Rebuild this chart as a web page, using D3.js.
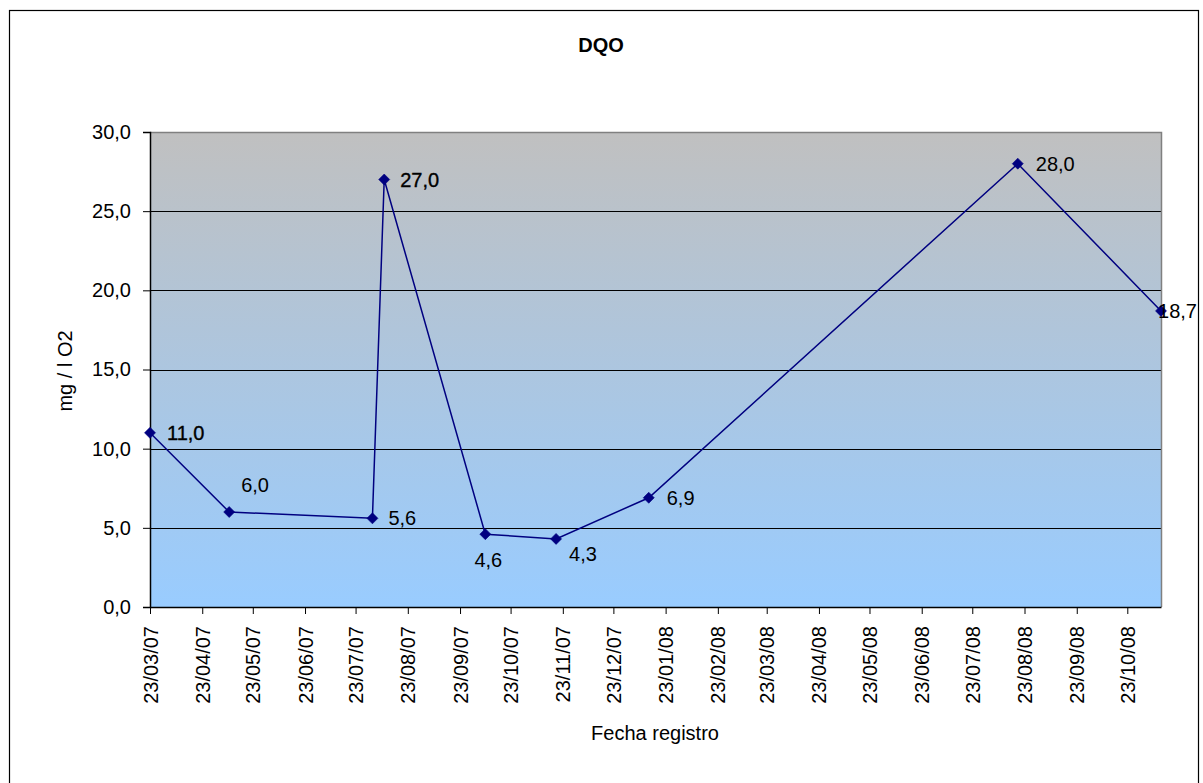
<!DOCTYPE html>
<html>
<head>
<meta charset="utf-8">
<script src="https://cdn.jsdelivr.net/npm/d3@7"></script>
<style>
  html, body { margin: 0; padding: 0; background: #ffffff; }
  svg { display: block; }
  text { font-family: "Liberation Sans", Arial, sans-serif; fill: #000; }
</style>
</head>
<body>
<svg id="chart" width="1203" height="783"></svg>
<script>
// DQO readings (mg / l O2) by sampling date
const sampleDates = ["23/03/07", "09/05/07", "02/08/07", "09/08/07", "08/10/07",
                     "19/11/07", "13/01/08", "19/08/08", "12/11/08"];
const dqoValues = [11.0, 6.0, 5.6, 27.0, 4.6, 4.3, 6.9, 28.0, 18.7];

// Monthly axis ticks
const xTickLabels = ["23/03/07", "23/04/07", "23/05/07", "23/06/07", "23/07/07",
                     "23/08/07", "23/09/07", "23/10/07", "23/11/07", "23/12/07",
                     "23/01/08", "23/02/08", "23/03/08", "23/04/08", "23/05/08",
                     "23/06/08", "23/07/08", "23/08/08", "23/09/08", "23/10/08"];
const yTickValues = [0, 5, 10, 15, 20, 25, 30];

const chartTitle = "DQO";
const xTitle = "Fecha registro";
const yTitle = "mg / l O2";

const parseDate = d3.timeParse("%d/%m/%y");
const points = sampleDates.map((d, i) => ({ date: parseDate(d), value: dqoValues[i] }));

const svg = d3.select("#chart");
const plot = { left: 150, top: 132, right: 1161, bottom: 607 };

const x = d3.scaleTime()
  .domain(d3.extent(points, d => d.date))
  .range([plot.left, plot.right]);
const y = d3.scaleLinear()
  .domain([0, 30])
  .range([plot.bottom, plot.top]);

const fmt = v => d3.format(".1f")(v).replace(".", ",");

// Outer chart frame
svg.append("rect")
  .attr("x", 9.5).attr("y", 10.5).attr("width", 1189).attr("height", 820)
  .attr("fill", "#fff").attr("stroke", "#000").attr("stroke-width", 1.2);

// Plot area background gradient
const defs = svg.append("defs");
const grad = defs.append("linearGradient")
  .attr("id", "plotBg").attr("x1", 0).attr("y1", 0).attr("x2", 0).attr("y2", 1);
grad.append("stop").attr("offset", "0%").attr("stop-color", "#c0c0c0");
grad.append("stop").attr("offset", "100%").attr("stop-color", "#99ccff");

svg.append("rect")
  .attr("x", plot.left).attr("y", plot.top)
  .attr("width", plot.right - plot.left).attr("height", plot.bottom - plot.top)
  .attr("fill", "url(#plotBg)");

// Horizontal gridlines
svg.append("g")
  .selectAll("line")
  .data(yTickValues.filter(v => v > 0 && v < 30))
  .join("line")
  .attr("x1", plot.left).attr("x2", plot.right)
  .attr("y1", d => Math.round(y(d)) + 0.5).attr("y2", d => Math.round(y(d)) + 0.5)
  .attr("stroke", "#000").attr("stroke-width", 1);

// Plot area border (top and right)
svg.append("path")
  .attr("d", `M${plot.left},${plot.top + 0.5}H${plot.right + 0.5}V${plot.bottom}`)
  .attr("fill", "none").attr("stroke", "#808080").attr("stroke-width", 1.5);

// Y axis
const yAxis = svg.append("g")
  .attr("transform", `translate(${plot.left},0)`)
  .call(d3.axisLeft(y).tickValues(yTickValues).tickFormat(fmt).tickSize(7).tickPadding(12));
yAxis.select(".domain").attr("stroke", "#000").attr("stroke-width", 1.5);
yAxis.selectAll(".tick line").attr("stroke", "#000");
yAxis.selectAll(".tick text").style("font-size", "20px")
  .style("font-family", "'Liberation Sans', Arial, sans-serif").attr("fill", "#000");

// X axis (date axis, monthly ticks)
const xAxis = svg.append("g")
  .attr("transform", `translate(0,${plot.bottom})`)
  .call(d3.axisBottom(x)
    .tickValues(xTickLabels.map(parseDate))
    .tickFormat(d3.timeFormat("%d/%m/%y"))
    .tickSize(7)
    .tickSizeOuter(0));
xAxis.select(".domain").attr("stroke", "#000").attr("stroke-width", 1.5);
xAxis.selectAll(".tick line").attr("stroke", "#000");
xAxis.selectAll(".tick text")
  .style("font-size", "20px")
  .style("font-family", "'Liberation Sans', Arial, sans-serif")
  .attr("fill", "#000")
  .attr("text-anchor", "end")
  .attr("transform", "rotate(-90)")
  .attr("x", -19)
  .attr("y", 0)
  .attr("dy", "0.35em");

// Series line
svg.append("path")
  .datum(points)
  .attr("fill", "none")
  .attr("stroke", "#000080")
  .attr("stroke-width", 1.5)
  .attr("d", d3.line().x(d => x(d.date)).y(d => y(d.value)));

// Diamond markers
svg.append("g")
  .selectAll("path")
  .data(points)
  .join("path")
  .attr("transform", d => `translate(${x(d.date)},${y(d.value)})`)
  .attr("d", "M0,-5.5L5.5,0L0,5.5L-5.5,0Z")
  .attr("fill", "#000080")
  .attr("stroke", "#000080")
  .attr("stroke-width", 0.6);

// Data label placement relative to each marker
const labelPlacement = [
  { dx: 17, dy: 0, anchor: "start", heavy: true },
  { dx: 12, dy: -27, anchor: "start" },
  { dx: 16, dy: 0, anchor: "start" },
  { dx: 16, dy: 0, anchor: "start", heavy: true },
  { dx: 3, dy: 26, anchor: "middle" },
  { dx: 13, dy: 15, anchor: "start" },
  { dx: 18, dy: 0, anchor: "start" },
  { dx: 18, dy: 0, anchor: "start" },
  { dx: 36, dy: 0, anchor: "end" }
];

svg.append("g")
  .selectAll("text")
  .data(points)
  .join("text")
  .attr("x", (d, i) => x(d.date) + labelPlacement[i].dx)
  .attr("y", (d, i) => y(d.value) + labelPlacement[i].dy)
  .attr("dy", "0.35em")
  .attr("text-anchor", (d, i) => labelPlacement[i].anchor)
  .style("font-size", "20px")
  .attr("stroke", (d, i) => labelPlacement[i].heavy ? "#000" : "none")
  .attr("stroke-width", 0.35)
  .text(d => fmt(d.value));

// Titles
svg.append("text")
  .attr("x", 601).attr("y", 52)
  .attr("text-anchor", "middle")
  .style("font-size", "20px").style("font-weight", "bold")
  .text(chartTitle);

svg.append("text")
  .attr("x", 655).attr("y", 740)
  .attr("text-anchor", "middle")
  .style("font-size", "20px")
  .text(xTitle);

svg.append("text")
  .attr("transform", "translate(72,371) rotate(-90)")
  .attr("text-anchor", "middle")
  .style("font-size", "20px")
  .text(yTitle);
</script>
</body>
</html>
